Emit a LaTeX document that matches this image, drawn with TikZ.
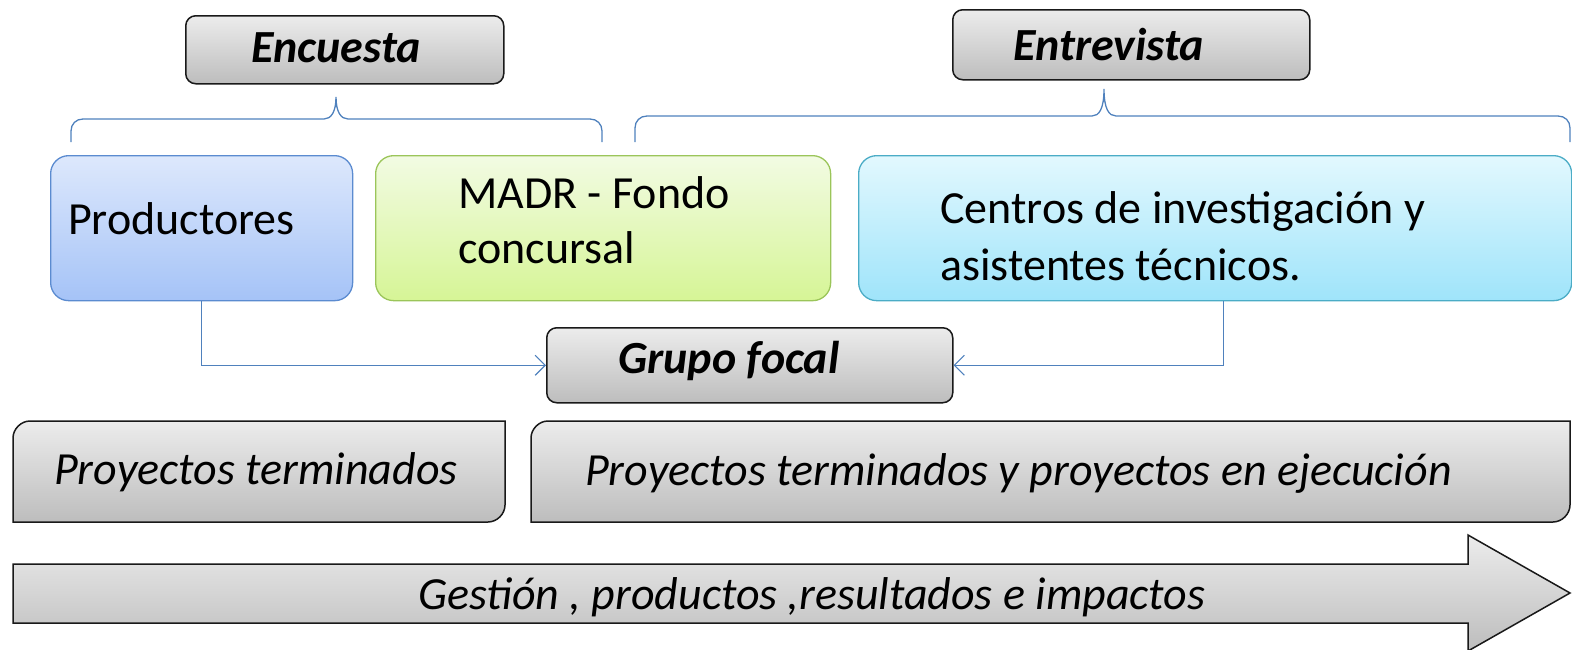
\documentclass[tikz,border=0pt]{standalone}
\usepackage{fontspec}
\setmainfont{Carlito}
\usetikzlibrary{arrows.meta}
\definecolor{grayT}{HTML}{ECECEC}
\definecolor{grayB}{HTML}{BDBDBD}
\definecolor{blueT}{HTML}{DDE8FC}
\definecolor{blueB}{HTML}{A5C3F7}
\definecolor{blueD}{HTML}{5B8BD0}
\definecolor{greenT}{HTML}{F2FBE3}
\definecolor{greenB}{HTML}{D6F596}
\definecolor{greenD}{HTML}{9BC55A}
\definecolor{cyanT}{HTML}{E2F8FE}
\definecolor{cyanB}{HTML}{9FE4FA}
\definecolor{cyanD}{HTML}{4BACC6}
\definecolor{lineblue}{HTML}{4F81BD}
\begin{document}
\begin{tikzpicture}[x=1pt,y=-1pt,
  graybox/.style={draw=black!90, line width=1.5pt, rounded corners=10pt, top color=grayT, bottom color=grayB, inner sep=0pt, anchor=north west},
  colbox/.style={line width=1.3pt, rounded corners=18pt, inner sep=0pt, anchor=north west},
  grayshape/.style={draw=black!90, line width=1.5pt, top color=grayT, bottom color=grayB},
  bracestyle/.style={draw=lineblue, line width=1.3pt},
  conn/.style={draw=lineblue, line width=1.2pt, -{Straight Barb[length=10pt,width=20pt,line width=1.2pt]}},
  txt/.style={anchor=base west, inner sep=0pt, font=\fontsize{46}{55}\selectfont},
  ttl/.style={anchor=base west, inner sep=0pt, font=\bfseries\itshape\fontsize{46}{54}\selectfont},
  itx/.style={anchor=base west, inner sep=0pt, font=\itshape\fontsize{46}{55}\selectfont}
]
\useasboundingbox (0,0) rectangle (1572,649);

% title boxes
\node[graybox, minimum width=318pt, minimum height=68pt] (enc) at (185,15) {};
\node[ttl] (enct) at (251,62) {Encuesta};
\node[graybox, minimum width=357pt, minimum height=70pt] (ent) at (952,9) {};
\node[ttl] (entt) at (1013,60) {Entrevista};

% braces
\draw[bracestyle] (71,142) -- (71,131) .. controls (71,124) and (76,119) .. (83,119)
  -- (324,119) .. controls (331,119) and (336,112) .. (336,97)
  .. controls (336,112) and (341,119) .. (348,119)
  -- (590,119) .. controls (597,119) and (602,124) .. (602,131) -- (602,142);
\draw[bracestyle] (635,142) -- (635,128) .. controls (635,121) and (640,116) .. (647,116)
  -- (1092,116) .. controls (1099,116) and (1104,109) .. (1104,89)
  .. controls (1104,109) and (1109,116) .. (1116,116)
  -- (1558,116) .. controls (1565,116) and (1570,121) .. (1570,128) -- (1570,142);

% colored boxes
\node[colbox, draw=blueD, top color=blueT, bottom color=blueB, minimum width=302pt, minimum height=145pt] (prod) at (50,155) {};
\node[txt] (prodt) at (68,234) {Productores};
\node[colbox, draw=greenD, top color=greenT, bottom color=greenB, minimum width=455pt, minimum height=145pt] (madr) at (375,155) {};
\node[txt] (madr1) at (458,208) {MADR - Fondo};
\node[txt] (madr2) at (458,263) {concursal};
\node[colbox, draw=cyanD, top color=cyanT, bottom color=cyanB, minimum width=713pt, minimum height=145pt] (cen) at (858,155) {};
\node[txt] (cen1) at (940,223) {Centros de investigación y};
\node[txt] (cen2) at (940,280) {asistentes técnicos.};

% grupo focal
\node[graybox, minimum width=406pt, minimum height=75pt] (grupo) at (546,327) {};
\node[ttl] (grupot) at (618,373) {Grupo focal};

% connectors
\draw[conn] (prod.south) |- (grupo.west);
\draw[conn] ([xshift=8.5pt]cen.south) |- (grupo.east);

% bottom boxes (rounded top-left and bottom-right)
\path[grayshape] (13,522) -- (13,438) .. controls (13,429) and (21,421) .. (30,421)
  -- (505,421) -- (505,505) .. controls (505,514) and (497,522) .. (488,522) -- cycle;
\node[itx] (pt1) at (54,484) {Proyectos terminados};
\path[grayshape] (531,522) -- (531,438) .. controls (531,429) and (539,421) .. (548,421)
  -- (1570,421) -- (1570,505) .. controls (1570,514) and (1562,522) .. (1553,522) -- cycle;
\node[itx] (pt2) at (585,485) {Proyectos terminados y proyectos en ejecución};

% big arrow
\path[grayshape] (13,564) -- (1468,564) -- (1468,535) -- (1570,593) -- (1468,651) -- (1468,623) -- (13,623) -- cycle;
\node[itx] (gest) at (418,609) {Gestión , productos ,resultados e impactos};
\end{tikzpicture}
\end{document}
